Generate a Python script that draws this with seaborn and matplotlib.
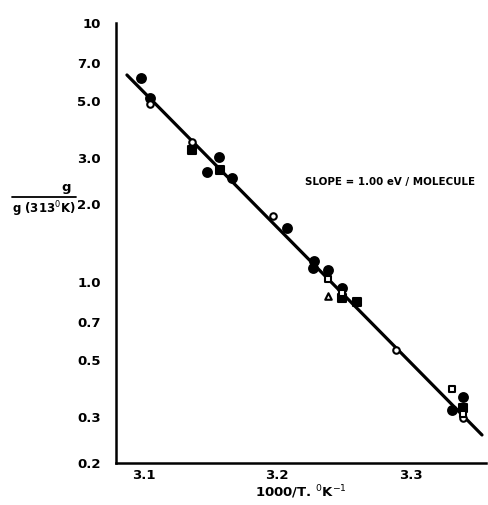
import matplotlib
matplotlib.use("Agg")
import matplotlib.pyplot as plt
import seaborn as sns
import numpy as np
import pandas as pd
from matplotlib.ticker import FixedLocator, NullFormatter, FixedFormatter

# ---- data ----
filled_circle_x = [3.0977, 3.1045, 3.1563, 3.1470, 3.1658, 3.2071, 3.2278, 3.2270, 3.2378, 3.2483, 3.3395, 3.3308]
filled_circle_y = [6.15, 5.12, 3.05, 2.67, 2.53, 1.61, 1.20, 1.13, 1.11, 0.95, 0.36, 0.32]
open_circle_x = [3.1045, 3.1362, 3.1970, 3.2890, 3.3395]
open_circle_y = [4.85, 3.46, 1.80, 0.546, 0.298]
filled_square_x = [3.1362, 3.1570, 3.2483, 3.2596, 3.3395]
filled_square_y = [3.23, 2.71, 0.865, 0.839, 0.326]
open_square_x = [3.2378, 3.2483, 3.3308, 3.3395]
open_square_y = [1.03, 0.905, 0.387, 0.31]
open_triangle_x = [3.2378]
open_triangle_y = [0.885]
fit_x = [3.0872, 3.3536]
fit_y = [6.30, 0.2566]

y_major = [10, 7.0, 5.0, 3.0, 2.0, 1.0, 0.7, 0.5, 0.3, 0.2]
y_major_labels = ["10", "7.0", "5.0", "3.0", "2.0", "1.0", "0.7", "0.5", "0.3", "0.2"]
x_ticks = [3.1, 3.2, 3.3]
x_tick_labels = ["3.1", "3.2", "3.3"]

sns.set_style("white")
plt.rcParams['font.family'] = ['DejaVu Sans']
for k in ["text.color", "axes.labelcolor", "xtick.color", "ytick.color"]:
    plt.rcParams[k] = "black"

fig = plt.figure(figsize=(4.88, 5.05), dpi=100)
ax = fig.add_axes([116/488, 1-463/505, (486-116)/488, (463-23)/505])

fit = pd.DataFrame({"x": fit_x, "y": fit_y})
sns.lineplot(data=fit, x="x", y="y", color="black", linewidth=2.3, ax=ax, zorder=2)

def pts(xs, ys, marker, face, size):
    sns.scatterplot(x=xs, y=ys, marker=marker, s=size, facecolor=face,
                    edgecolor="black", linewidth=1.5, ax=ax, zorder=3)

pts(filled_circle_x, filled_circle_y, "o", "black", 40)
pts(filled_square_x, filled_square_y, "s", "black", 32)
pts(open_circle_x, open_circle_y, "o", "white", 22)
pts(open_square_x, open_square_y, "s", "white", 22)
pts(open_triangle_x, open_triangle_y, "^", "white", 22)

ax.set_yscale("log")
ax.set_ylim(0.2, 10)
ax.set_xlim(3.079, 3.3566)

for s in ["top", "right"]:
    ax.spines[s].set_visible(False)
for s in ["left", "bottom"]:
    ax.spines[s].set_linewidth(1.8)
    ax.spines[s].set_color("black")

# y ticks
ax.yaxis.set_major_locator(FixedLocator(y_major))
ax.yaxis.set_major_formatter(FixedFormatter(y_major_labels))
minor = [v for d in [0.1, 1] for v in np.arange(2, 10) * d if not any(abs(v - m) < 1e-9 for m in y_major)]
ax.yaxis.set_minor_locator(FixedLocator(minor))
ax.yaxis.set_minor_formatter(NullFormatter())
ax.tick_params(axis="y", which="major", direction="in", length=7.5, width=1.5, labelsize=9.5, pad=11, colors="black")
ax.tick_params(axis="y", which="minor", direction="in", length=7.5, width=1.5, colors="black")
for lab in ax.get_yticklabels():
    lab.set_fontweight("bold")
for t in ax.yaxis.get_major_ticks():
    v = t.get_loc()
    if abs(v - 1.0) < 1e-9:
        t.tick1line.set_markersize(15)
    elif abs(v - 5.0) < 1e-9 or abs(v - 0.5) < 1e-9:
        t.tick1line.set_markersize(11.5)

ax.set_xticks(x_ticks)
ax.set_xticklabels(x_tick_labels, fontweight="bold")
ax.tick_params(axis="x", direction="in", length=7.5, width=1.5, labelsize=9.5, pad=4, colors="black")

ax.set_xlabel("1000/T. $^{0}$K$^{-1}$", fontsize=9.5, fontweight="bold", labelpad=1, color="black")
ax.set_ylabel("")

ax.text(3.2208, 2.43, "SLOPE = 1.00 eV / MOLECULE", fontsize=7.4, fontweight="bold", va="center", ha="left", color="black")

# y-axis label as fraction
fig.text(66/488, 1-187/505, "g", ha="center", va="center", fontsize=9.5, fontweight="bold", color="black")
fig.add_artist(plt.Line2D([12/488, 76/488], [1-197/505, 1-197/505], color="black", linewidth=1.3))
fig.text(44/488, 1-209/505, "g (313$^{0}$K)", ha="center", va="center", fontsize=8.5, fontweight="bold", color="black")

fig.savefig("out.png", dpi=100)
